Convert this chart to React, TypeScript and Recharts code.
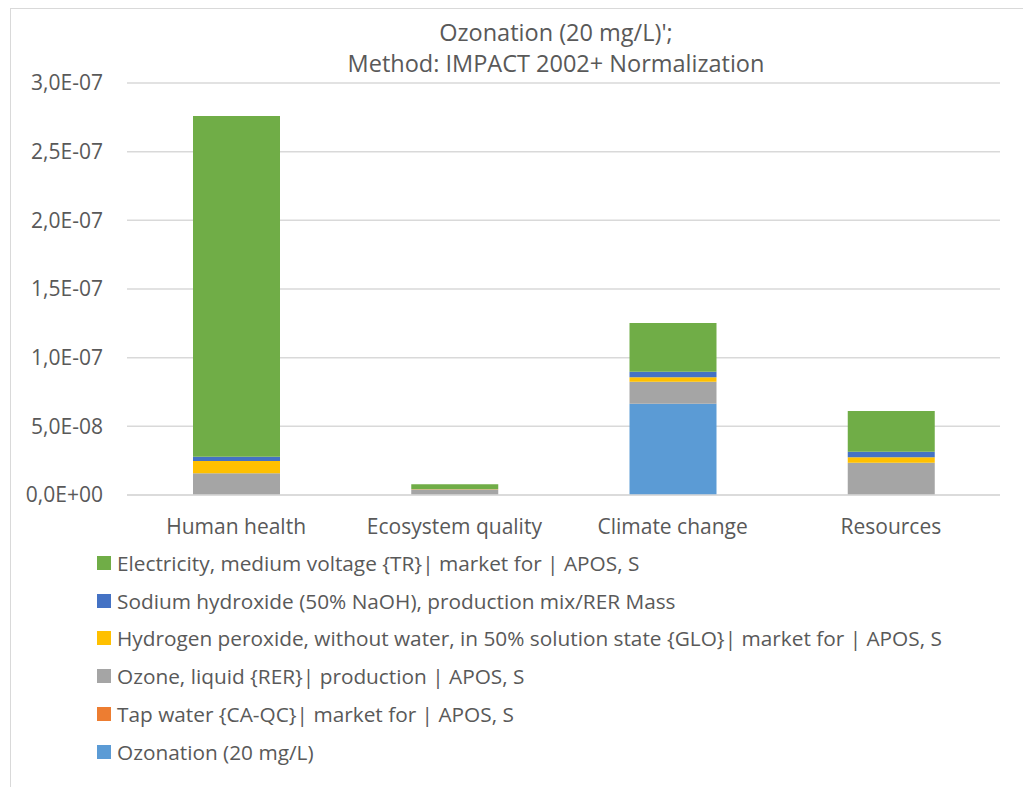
import { BarChart, Bar, XAxis, YAxis, CartesianGrid } from "recharts";

const categories = ["Human health", "Ecosystem quality", "Climate change", "Resources"];

// stacked from the bottom up
const ozonation = [0, 0, 6.65e-8, 0];
const tapWater = [0, 0, 0, 0];
const ozone = [1.58e-8, 4.2e-9, 1.6e-8, 2.35e-8];
const hydrogenPeroxide = [9.0e-9, 2.0e-10, 3.2e-9, 3.9e-9];
const sodiumHydroxide = [3.1e-9, 0, 4.1e-9, 4.1e-9];
const electricity = [2.48e-7, 3.4e-9, 3.54e-8, 2.97e-8];

const yTicks = [0, 5e-8, 1e-7, 1.5e-7, 2e-7, 2.5e-7, 3e-7];

const series = [
  { key: "ozonation", name: "Ozonation (20 mg/L)", color: "#5B9BD5", values: ozonation },
  { key: "tapWater", name: "Tap water {CA-QC}| market for | APOS, S", color: "#ED7D31", values: tapWater },
  { key: "ozone", name: "Ozone, liquid {RER}| production | APOS, S", color: "#A5A5A5", values: ozone },
  {
    key: "hydrogenPeroxide",
    name: "Hydrogen peroxide, without water, in 50% solution state {GLO}| market for | APOS, S",
    color: "#FFC000",
    values: hydrogenPeroxide,
  },
  {
    key: "sodiumHydroxide",
    name: "Sodium hydroxide (50% NaOH), production mix/RER Mass",
    color: "#4472C4",
    values: sodiumHydroxide,
  },
  {
    key: "electricity",
    name: "Electricity, medium voltage {TR}| market for | APOS, S",
    color: "#70AD47",
    values: electricity,
  },
];

const data = categories.map((name, i) => {
  const row: Record<string, string | number> = { name };
  series.forEach((s) => {
    row[s.key] = s.values[i];
  });
  return row;
});

const textColor = "#595959";
const font = "'Open Sans', 'Noto Sans', sans-serif";

function formatSci(v: number) {
  const [m, e] = v.toExponential(1).split("e");
  const sign = e.startsWith("-") ? "-" : "+";
  const digits = e.replace(/[+-]/, "").padStart(2, "0");
  return `${m.replace(".", ",")}E${sign}${digits}`;
}

export default function App() {
  return (
    <div
      style={{
        position: "absolute",
        left: 0,
        top: 0,
        width: 1023,
        height: 787,
        background: "#fff",
        fontFamily: font,
        color: textColor,
        overflow: "hidden",
      }}
    >
      <div
        style={{
          position: "absolute",
          left: 10,
          top: 8,
          right: -2,
          bottom: -2,
          borderLeft: "1.5px solid #d9d9d9",
          borderTop: "1.5px solid #d9d9d9",
        }}
      />
      <div
        style={{
          position: "absolute",
          left: 256,
          width: 600,
          top: 17,
          textAlign: "center",
          fontSize: 23.5,
          lineHeight: "31px",
        }}
      >
        <div>Ozonation (20 mg/L)';</div>
        <div>Method: IMPACT 2002+ Normalization</div>
      </div>

      <div style={{ position: "absolute", left: 0, top: 0 }}>
        <BarChart
          width={1023}
          height={545}
          data={data}
          margin={{ top: 83, right: 23, left: 0, bottom: 0 }}
        >
          <CartesianGrid vertical={false} stroke="#d9d9d9" strokeWidth={1.5} />
          <XAxis
            dataKey="name"
            height={50}
            tickLine={false}
            tickSize={0}
            tickMargin={24}
            axisLine={{ stroke: "#d9d9d9", strokeWidth: 1.5 }}
            tick={{ fill: textColor, fontSize: 21, fontFamily: font }}
            interval={0}
          />
          <YAxis
            width={127}
            domain={[0, 3e-7]}
            ticks={yTicks}
            tickFormatter={formatSci}
            tickLine={false}
            axisLine={false}
            tickSize={0}
            tickMargin={24}
            tick={{ fill: textColor, fontSize: 21, fontFamily: font }}
          />
          {series.map((s) => (
            <Bar
              key={s.key}
              dataKey={s.key}
              name={s.name}
              stackId="a"
              fill={s.color}
              barSize={87}
              isAnimationActive={false}
            />
          ))}
        </BarChart>
      </div>

      <div style={{ position: "absolute", left: 97, top: 544 }}>
        {[...series].reverse().map((s) => (
          <div
            key={s.key}
            style={{ display: "flex", alignItems: "center", height: 37.8, fontSize: 20.8 }}
          >
            <span
              style={{ width: 14, height: 14, background: s.color, marginRight: 6, flexShrink: 0 }}
            />
            <span style={{ whiteSpace: "nowrap" }}>{s.name}</span>
          </div>
        ))}
      </div>
    </div>
  );
}
